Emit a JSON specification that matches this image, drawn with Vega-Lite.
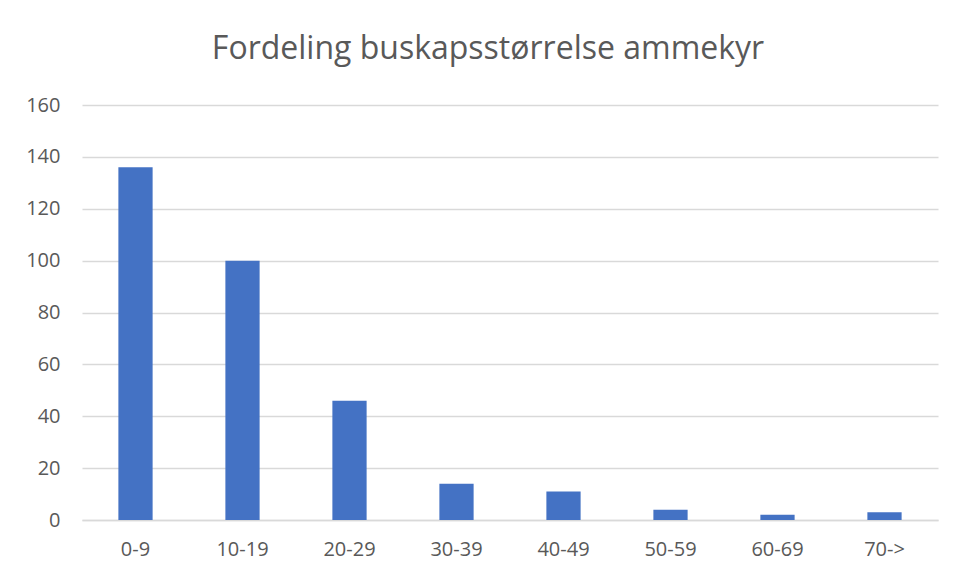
{
  "$schema": "https://vega.github.io/schema/vega-lite/v6.json",
  "width": 856,
  "height": 415,
  "autosize": {"type": "none"},
  "padding": {"left": 82, "top": 105, "right": 19, "bottom": 59},
  "background": "white",
  "title": {
    "text": "Fordeling buskapsstørrelse ammekyr",
    "font": "Open Sans",
    "fontSize": 32,
    "fontWeight": "normal",
    "color": "#595959",
    "anchor": "middle",
    "dx": -22,
    "offset": 29
  },
  "data": {
    "values": [
      {"kategori": "0-9", "antall": 136},
      {"kategori": "10-19", "antall": 100},
      {"kategori": "20-29", "antall": 46},
      {"kategori": "30-39", "antall": 14},
      {"kategori": "40-49", "antall": 11},
      {"kategori": "50-59", "antall": 4},
      {"kategori": "60-69", "antall": 2},
      {"kategori": "70->", "antall": 3}
    ]
  },
  "mark": {"type": "bar", "color": "#4472c4"},
  "encoding": {
    "x": {
      "field": "kategori",
      "type": "nominal",
      "sort": null,
      "title": null,
      "scale": {"paddingInner": 0.68, "paddingOuter": 0.34},
      "axis": {
        "labelAngle": 0,
        "labelFont": "Open Sans",
        "labelFontSize": 20,
        "labelColor": "#595959",
        "labelPadding": 19,
        "ticks": false,
        "domainColor": "#d9d9d9",
        "domainWidth": 1.5,
        "grid": false
      }
    },
    "y": {
      "field": "antall",
      "type": "quantitative",
      "title": null,
      "scale": {"domain": [0, 160], "nice": false},
      "axis": {
        "values": [0, 20, 40, 60, 80, 100, 120, 140, 160],
        "labelFont": "Open Sans",
        "labelFontSize": 20,
        "labelColor": "#595959",
        "labelPadding": 22,
        "ticks": false,
        "domain": false,
        "grid": true,
        "gridColor": "#d9d9d9",
        "gridWidth": 1.5
      }
    }
  },
  "config": {"view": {"stroke": null}}
}
